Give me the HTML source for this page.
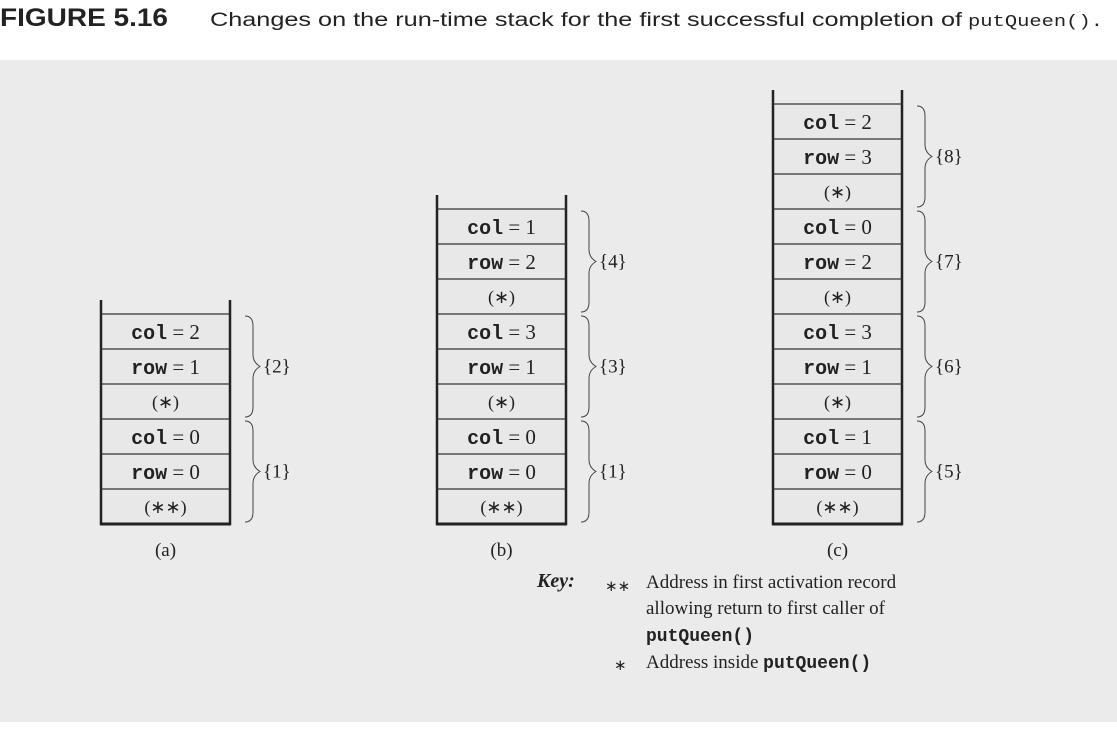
<!DOCTYPE html>
<html><head><meta charset="utf-8"><style>
html,body{margin:0;padding:0;background:#fff;}
svg{display:block;}
.mono{font-family:"Liberation Mono",monospace;font-weight:bold;}
.ser{font-family:"Liberation Serif",serif;}
</style></head><body>
<svg id="fig" width="1117" height="739" viewBox="0 0 1117 739" xmlns="http://www.w3.org/2000/svg">
<text x="0" y="26" font-family="Liberation Sans Narrow,Liberation Sans,sans-serif" font-weight="bold" font-size="25" textLength="168" lengthAdjust="spacingAndGlyphs" fill="#222">FIGURE 5.16</text>
<text x="210" y="26" font-family="Liberation Sans,sans-serif" font-size="19" fill="#222" textLength="752" lengthAdjust="spacingAndGlyphs">Changes on the run-time stack for the first successful completion of</text>
<text x="968" y="26" font-family="Liberation Mono,monospace" font-size="17" fill="#222" textLength="135" lengthAdjust="spacingAndGlyphs">putQueen().</text>
<rect x="0" y="60" width="1117" height="662" fill="#ebebeb"/>
<g id="stacks"></g>
<g class="ser" font-size="19" fill="#222">
<text x="537" y="587" font-weight="bold" font-style="italic" font-size="20">Key:</text>
<text x="605" y="591" font-size="15">∗∗</text>
<text x="646" y="588">Address in first activation record</text>
<text x="646" y="614">allowing return to first caller of</text>
<text x="646" y="641" class="mono" font-size="18">putQueen()</text>
<text x="614" y="670" font-size="15">∗</text>
<text x="646" y="668">Address inside <tspan class="mono" font-size="18">putQueen()</tspan></text>
</g>
</svg>
<script>
const stackLabels=['(a)','(b)','(c)'];
const stackLefts=[101,437,773];
const records=[
 [{col:0,row:0,ret:'(∗∗)',id:1},{col:2,row:1,ret:'(∗)',id:2}],
 [{col:0,row:0,ret:'(∗∗)',id:1},{col:3,row:1,ret:'(∗)',id:3},{col:1,row:2,ret:'(∗)',id:4}],
 [{col:1,row:0,ret:'(∗∗)',id:5},{col:3,row:1,ret:'(∗)',id:6},{col:0,row:2,ret:'(∗)',id:7},{col:2,row:3,ret:'(∗)',id:8}]
];
const NS='http://www.w3.org/2000/svg';
const g=document.getElementById('stacks');
const W=129,H=35,BOT=524;
function mk(tag,attrs,parent){const e=document.createElementNS(NS,tag);for(const k in attrs)e.setAttribute(k,attrs[k]);parent.appendChild(e);return e;}
records.forEach((recs,si)=>{
 const x=stackLefts[si];
 const sg=mk('g',{},g);
 
 
 const n=recs.length*3;
 const top=BOT-n*H;
 mk('rect',{x:x,y:top,width:W,height:n*H,fill:'#e8e8e8'},sg);
 mk('line',{x1:x,y1:top-14,x2:x,y2:BOT+1,stroke:'#222','stroke-width':2.5},sg);
 mk('line',{x1:x+W,y1:top-14,x2:x+W,y2:BOT+1,stroke:'#222','stroke-width':2.5},sg);
 mk('line',{x1:x-1,y1:BOT,x2:x+W+1,y2:BOT,stroke:'#222','stroke-width':3},sg);
 for(let i=0;i<n;i++){mk('line',{x1:x,y1:top+i*H,x2:x+W,y2:top+i*H,stroke:'#333','stroke-width':1.2},sg);}
 recs.forEach((r,ri)=>{
  const base=BOT-(ri+1)*3*H;
  const cx=x+W/2;
  const rows=[['col',r.col],['row',r.row]];
  rows.forEach((p,k)=>{
   const t=mk('text',{x:cx,y:base+k*H+25,'text-anchor':'middle',fill:'#222'},sg);
   
   
   const a=mk('tspan',{class:'mono','font-size':20},t);a.textContent=p[0];
   const b=mk('tspan',{class:'ser','font-size':21},t);b.textContent=' = '+p[1];
  });
  const t3=mk('text',{x:cx,y:base+2*H+24,'text-anchor':'middle','font-size':18,class:'ser',fill:'#222'},sg);
  
  
  t3.textContent=r.ret;
  const bx=x+W+15, y0=base+2, y1=base+3*H-2, ym=(y0+y1)/2;
  const br=mk('path',{d:`M${bx},${y0} Q${bx+8},${y0} ${bx+8},${y0+10} L${bx+8},${ym-12} Q${bx+8},${ym-4} ${bx+15},${ym} Q${bx+8},${ym+4} ${bx+8},${ym+12} L${bx+8},${y1-10} Q${bx+8},${y1} ${bx},${y1}`,fill:'none',stroke:'#444','stroke-width':1},sg);
  
  
  const lt=mk('text',{x:bx+18,y:ym+6,'font-size':19,class:'ser',fill:'#222'},sg);
  
  
  lt.textContent='{'+r.id+'}';
 });
 const lab=mk('text',{x:x+W/2,y:556,'text-anchor':'middle','font-size':19,class:'ser',fill:'#222'},sg);
 
 
 lab.textContent=stackLabels[si];
});
</script>
</body></html>
